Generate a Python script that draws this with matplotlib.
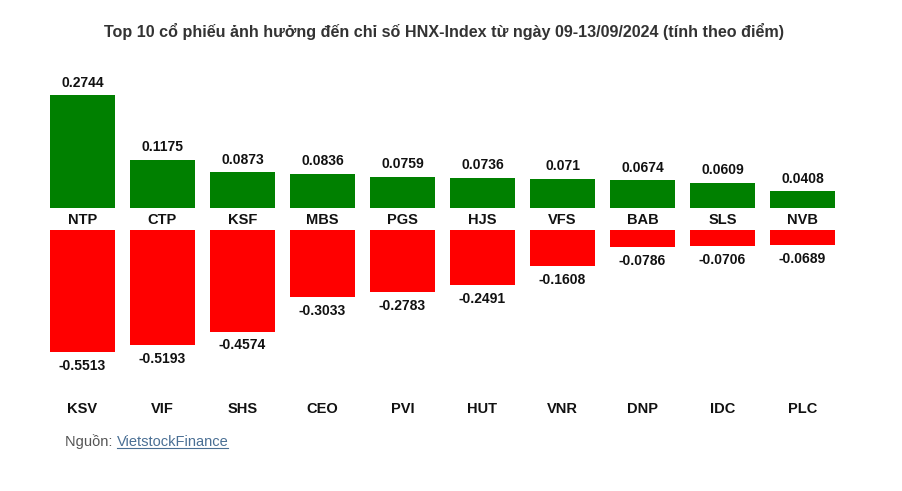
import numpy as np
import matplotlib.pyplot as plt
from matplotlib.transforms import blended_transform_factory

plt.rcParams['font.family'] = ['Liberation Sans', 'DejaVu Sans']

up_codes = ['NTP', 'CTP', 'KSF', 'MBS', 'PGS', 'HJS', 'VFS', 'BAB', 'SLS', 'NVB']
up_vals = [0.2744, 0.1175, 0.0873, 0.0836, 0.0759, 0.0736, 0.071, 0.0674, 0.0609, 0.0408]
down_codes = ['KSV', 'VIF', 'SHS', 'CEO', 'PVI', 'HUT', 'VNR', 'DNP', 'IDC', 'PLC']
down_vals = [-0.5513, -0.5193, -0.4574, -0.3033, -0.2783, -0.2491, -0.1608, -0.0786, -0.0706, -0.0689]

W, H = 902, 491
fig = plt.figure(figsize=(W / 100, H / 100), dpi=100)
fig.patch.set_facecolor('white')

x = np.arange(len(up_codes))
left = 42.5 / W
width = 800 / W

# top axes: green bars, baseline at y=208px, ~410 px per unit
ax_up = fig.add_axes([left, (H - 208) / H, width, 148 / H])
ax_up.bar(x, up_vals, width=0.8125, color='#008000')
ax_up.set_xlim(-0.5, 9.5)
ax_up.set_ylim(0, 148 / 410)
ax_up.axis('off')
for xi, v in zip(x, up_vals):
    ax_up.annotate(f'{v:g}', (xi, v), xytext=(0, 4), textcoords='offset points',
                   ha='center', va='bottom', fontsize=10, fontweight='bold', color='#111111')
tr = blended_transform_factory(ax_up.transData, ax_up.transAxes)
for xi, c in zip(x, up_codes):
    ax_up.text(xi, -12 / 148, c, transform=tr, ha='center', va='center',
               fontsize=10.5, fontweight='bold', color='#111111')

# bottom axes: red bars, top at y=230px, ~222 px per unit
ax_dn = fig.add_axes([left, (H - 400) / H, width, 170 / H])
ax_dn.bar(x, down_vals, width=0.8125, color='#ff0000')
ax_dn.set_xlim(-0.5, 9.5)
ax_dn.set_ylim(-170 / 222, 0)
ax_dn.axis('off')
for xi, v in zip(x, down_vals):
    ax_dn.annotate(f'{v:g}', (xi, v), xytext=(0, -5), textcoords='offset points',
                   ha='center', va='top', fontsize=10, fontweight='bold', color='#111111')
tr2 = blended_transform_factory(ax_dn.transData, ax_dn.transAxes)
for xi, c in zip(x, down_codes):
    ax_dn.text(xi, -9 / 170, c, transform=tr2, ha='center', va='center',
               fontsize=10.5, fontweight='bold', color='#111111')

fig.text(444 / W, 1 - 32 / H,
         'Top 10 cổ phiếu ảnh hưởng đến chỉ số HNX-Index từ ngày 09-13/09/2024 (tính theo điểm)',
         ha='center', va='center', fontsize=11.6, fontweight='bold', color='#333333')

t1 = fig.text(65 / W, 1 - 442 / H, 'Nguồn: ', ha='left', va='center', fontsize=10.5, color='#555555')
fig.canvas.draw()
bb = t1.get_window_extent()
t2 = fig.text(bb.x1 / W, 1 - 442 / H, 'VietstockFinance', ha='left', va='center',
              fontsize=10.5, color='#4a6f94')
fig.canvas.draw()
bb2 = t2.get_window_extent()
fig.add_artist(plt.Line2D([bb2.x0 / W, bb2.x1 / W], [bb2.y0 / H + 0.002, bb2.y0 / H + 0.002],
                          color='#4a6f94', lw=0.8))

fig.savefig('out.png', dpi=100, facecolor='white')
